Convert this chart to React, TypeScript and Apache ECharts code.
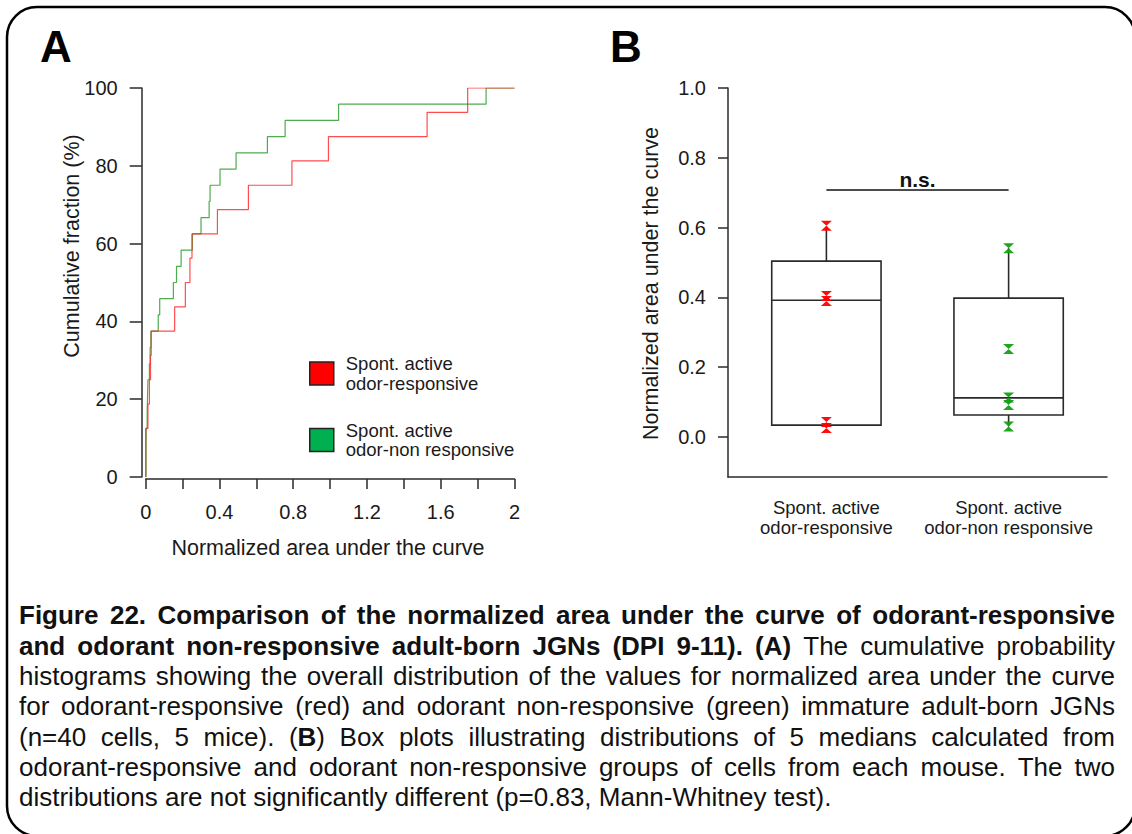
import React, { useEffect, useRef } from 'react';
import * as echarts from 'echarts';

const FONT = "'Liberation Sans', Arial, Helvetica, sans-serif";

// Panel A: normalized area under the curve of each cell (sorted)
const respValues = [0.0, 0.0, 0.012, 0.02, 0.026, 0.03, 0.157, 0.215, 0.24, 0.251, 0.389, 0.557, 0.793, 0.991, 1.526, 1.746];
const nonRespValues = [0.002, 0.002, 0.003, 0.008, 0.01, 0.012, 0.02, 0.024, 0.028, 0.068, 0.076, 0.15, 0.167, 0.192, 0.253, 0.3, 0.344, 0.349, 0.403, 0.49, 0.66, 0.756, 1.046, 1.846];

const respName = 'Spont. active\nodor-responsive';
const nonRespName = 'Spont. active\nodor-non responsive';

// Panel B: box statistics [lower whisker, Q1, median, Q3, upper whisker]
const respBox = [0.026, 0.034, 0.392, 0.504, 0.603];
const nonRespBox = [0.03, 0.063, 0.112, 0.398, 0.541];
// Panel B: per-mouse medians
const respMedians = [0.605, 0.404, 0.39, 0.043, 0.026];
const nonRespMedians = [0.541, 0.252, 0.113, 0.092, 0.03];
const groupLabels = [respName, nonRespName];
const bTicks = [0, 0.2, 0.4, 0.6, 0.8, 1.0];
const nsLevel = 0.708;

// Caption: [text, bold] segments per line; last line is not justified
const captionLines: [string, boolean][][] = [
  [['Figure 22. Comparison of the normalized area under the curve of odorant-responsive', true]],
  [['and odorant non-responsive adult-born JGNs (DPI 9-11). (A)', true], [' The cumulative probability', false]],
  [['histograms showing the overall distribution of the values for normalized area under the curve', false]],
  [['for odorant-responsive (red) and odorant non-responsive (green) immature adult-born JGNs', false]],
  [['(n=40 cells, 5 mice). (', false], ['B', true], [') Box plots illustrating distributions of 5 medians calculated from', false]],
  [['odorant-responsive and odorant non-responsive groups of cells from each mouse. The two', false]],
  [['distributions are not significantly different (p=0.83, Mann-Whitney test).', false]],
];

function cumulative(values: number[]): [number, number][] {
  const n = values.length;
  const pts: [number, number][] = [[values[0], 0]];
  values.forEach((v, i) => pts.push([v, ((i + 1) / n) * 100]));
  pts.push([2, 100]);
  return pts;
}

type Piece = { t: string; b: boolean };
function buildWords(segs: [string, boolean][]): Piece[][] {
  const words: Piece[][] = [];
  let cur: Piece[] = [];
  for (const [text, bold] of segs) {
    const parts = text.split(' ');
    parts.forEach((p, i) => {
      if (i > 0) {
        if (cur.length) words.push(cur);
        cur = [];
      }
      if (p) cur.push({ t: p, b: bold });
    });
  }
  if (cur.length) words.push(cur);
  return words;
}

const HOURGLASS = 'path://M0,0 L10,0 L0,10 L10,10 Z';

export default function App() {
  const ref = useRef<HTMLDivElement>(null);
  useEffect(() => {
    if (!ref.current) return;
    const chart = echarts.init(ref.current, undefined, { renderer: 'svg' });
    const axisColor = '#2a2a2a';
    const labelColor = '#1a1a1a';
    const CAP = 26;
    const capStyle = { fontSize: CAP, fontFamily: FONT, fill: '#111', color: '#111' };
    const canvas = document.createElement('canvas');
    const ctx = canvas.getContext('2d') as CanvasRenderingContext2D;
    const measure = (t: string, b: boolean) => {
      ctx.font = `normal ${b ? 'bold' : 'normal'} ${CAP}px ${FONT}`;
      return ctx.measureText(t).width;
    };
    const LEFT = 19;
    const RIGHT = 1115;

    const titleStyle = (text: string) => ({
      text, fontSize: 21.5, fontFamily: FONT, fill: labelColor,
      align: 'center', textAlign: 'center', verticalAlign: 'middle', textVerticalAlign: 'middle',
    });

    const graphics: any[] = [
      {
        type: 'rect', silent: true, z: 100,
        shape: { x: 7, y: 7, width: 1128, height: 829, r: 30 },
        style: { fill: 'none', stroke: '#000', lineWidth: 2.5 },
      },
      {
        type: 'text', x: 40, y: 46,
        style: { text: 'A', fontSize: 44, fontWeight: 'bold', fontFamily: FONT, fill: '#000', align: 'left', textAlign: 'left', verticalAlign: 'middle', textVerticalAlign: 'middle' },
      },
      {
        type: 'text', x: 610, y: 46,
        style: { text: 'B', fontSize: 44, fontWeight: 'bold', fontFamily: FONT, fill: '#000', align: 'left', textAlign: 'left', verticalAlign: 'middle', textVerticalAlign: 'middle' },
      },
      { type: 'text', x: 72, y: 246, rotation: Math.PI / 2, style: titleStyle('Cumulative fraction (%)') },
      { type: 'text', x: 328, y: 548, style: titleStyle('Normalized area under the curve') },
      { type: 'text', x: 651, y: 283.5, rotation: Math.PI / 2, style: titleStyle('Normalized area under the curve') },
    ];
    const lineYs = [615, 645.5, 676, 706, 736.5, 766.5, 797];
    captionLines.forEach((segs, i) => {
      const words = buildWords(segs);
      const justify = i < captionLines.length - 1 && words.length > 1;
      let total = 0;
      words.forEach((w) => w.forEach((p) => (total += measure(p.t, p.b))));
      const gap = justify ? (RIGHT - LEFT - total) / (words.length - 1) : measure(' ', false);
      const text = words
        .map((w) => w.map((p) => `{${p.b ? 'b' : 'n'}|${p.t}}`).join(''))
        .join('{g| }');
      graphics.push({
        type: 'text', x: LEFT, y: lineYs[i],
        style: {
          text, fontSize: CAP, fontFamily: FONT, fill: '#111',
          align: 'left', textAlign: 'left', verticalAlign: 'middle', textVerticalAlign: 'middle',
          rich: {
            b: { ...capStyle, fontWeight: 'bold' },
            n: { ...capStyle, fontWeight: 'normal' },
            g: { ...capStyle, width: gap },
          },
        },
      });
    });

    const option: any = {
      animation: false,
      textStyle: { fontFamily: FONT },
      grid: [
        { left: 145.7, top: 88, width: 368.8, height: 389 },
        { left: 728, top: 88, width: 379, height: 389 },
      ],
      xAxis: [
        {
          gridIndex: 0, type: 'value', min: 0, max: 2, interval: 0.2, offset: 2,
          axisLine: { show: true, onZero: false, lineStyle: { color: axisColor, width: 1.5 } },
          axisTick: { show: true, length: 10, lineStyle: { color: axisColor, width: 1.5 } },
          axisLabel: {
            margin: 23, fontSize: 20, color: labelColor, fontFamily: FONT, lineHeight: 20,
            formatter: (v: number) => (Math.round(v * 10) % 4 === 0 ? String(+v.toFixed(1)) : ''),
          },
          splitLine: { show: false },
        },
        {
          gridIndex: 1, type: 'value', min: 0.46, max: 2.54,
          axisLine: { show: true, onZero: false, lineStyle: { color: axisColor, width: 1.5 } },
          axisTick: { show: false },
          axisLabel: {
            customValues: [1, 2], margin: 20, fontSize: 18.5, color: labelColor, fontFamily: FONT, lineHeight: 20,
            formatter: (v: number) => groupLabels[Math.round(v) - 1] || '',
          },
          splitLine: { show: false },
        },
      ],
      yAxis: [
        {
          gridIndex: 0, type: 'value', min: 0, max: 100, interval: 20, offset: 4,
          axisLine: { show: true, onZero: false, lineStyle: { color: axisColor, width: 1.5 } },
          axisTick: { show: true, length: 12, lineStyle: { color: axisColor, width: 1.5 } },
          axisLabel: { margin: 24, fontSize: 20, color: labelColor, fontFamily: FONT },
          splitLine: { show: false },
        },
        {
          gridIndex: 1, type: 'value', min: -0.1146, max: 1.0,
          axisLine: { show: true, onZero: false, lineStyle: { color: axisColor, width: 1.5 } },
          axisTick: { show: true, length: 10, customValues: bTicks, lineStyle: { color: axisColor, width: 1.5 } },
          axisLabel: {
            customValues: bTicks, margin: 22, fontSize: 20, color: labelColor, fontFamily: FONT,
            formatter: (v: number) => v.toFixed(1),
          },
          splitLine: { show: false },
        },
      ],
      legend: {
        orient: 'vertical', left: 309, top: 354, padding: 0, itemWidth: 24, itemHeight: 23, itemGap: 27.5,
        icon: 'rect', selectedMode: false,
        textStyle: { fontSize: 18.5, lineHeight: 19.5, color: labelColor, fontFamily: FONT, padding: [0, 0, 0, 7] },
        data: [
          { name: respName, icon: 'rect', itemStyle: { color: '#ff0000', borderColor: '#222', borderWidth: 1.5 } },
          { name: nonRespName, icon: 'rect', itemStyle: { color: '#00b050', borderColor: '#222', borderWidth: 1.5 } },
        ],
      },
      series: [
        {
          name: nonRespName, type: 'line', xAxisIndex: 0, yAxisIndex: 0, step: 'end',
          symbol: 'none', showSymbol: false, data: cumulative(nonRespValues),
          color: '#2e9e2e', lineStyle: { color: '#2e9e2e', width: 1.2, opacity: 0.85 },
        },
        {
          name: respName, type: 'line', xAxisIndex: 0, yAxisIndex: 0, step: 'end',
          symbol: 'none', showSymbol: false, data: cumulative(respValues),
          color: '#ff2020', lineStyle: { color: '#ff2020', width: 1.2, opacity: 0.8 },
        },
        {
          type: 'custom', xAxisIndex: 1, yAxisIndex: 1, z: 2,
          data: [[1, ...respBox], [2, ...nonRespBox]],
          encode: { x: 0, y: [1, 2, 3, 4, 5] },
          renderItem: (params: any, api: any) => {
            const x = api.value(0);
            const lo = api.coord([x, api.value(1)]);
            const q1 = api.coord([x, api.value(2)]);
            const md = api.coord([x, api.value(3)]);
            const q3 = api.coord([x, api.value(4)]);
            const hi = api.coord([x, api.value(5)]);
            const hw = api.size([0.6, 0])[0] / 2;
            const st = { stroke: '#2a2a2a', lineWidth: 1.6, fill: 'none' };
            return {
              type: 'group',
              children: [
                { type: 'line', shape: { x1: lo[0], y1: lo[1], x2: q1[0], y2: q1[1] }, style: st },
                { type: 'line', shape: { x1: q3[0], y1: q3[1], x2: hi[0], y2: hi[1] }, style: st },
                { type: 'rect', shape: { x: q3[0] - hw, y: q3[1], width: 2 * hw, height: q1[1] - q3[1] }, style: { ...st, fill: '#fff' } },
                { type: 'line', shape: { x1: md[0] - hw, y1: md[1], x2: md[0] + hw, y2: md[1] }, style: st },
              ],
            };
          },
        },
        {
          type: 'scatter', xAxisIndex: 1, yAxisIndex: 1, z: 3,
          symbol: HOURGLASS, symbolSize: [11, 10],
          itemStyle: { color: '#ff0000', opacity: 0.95 },
          data: respMedians.map((v) => [1, v]),
          markLine: {
            silent: true, symbol: 'none', animation: false,
            lineStyle: { color: '#111', width: 1.6, type: 'solid' },
            label: { show: true, position: 'middle', formatter: 'n.s.', fontWeight: 'bold', fontSize: 21, color: '#111', fontFamily: FONT, distance: 0 },
            data: [[{ coord: [1, nsLevel] }, { coord: [2, nsLevel] }]],
          },
        },
        {
          type: 'scatter', xAxisIndex: 1, yAxisIndex: 1, z: 3,
          symbol: HOURGLASS, symbolSize: [11, 10],
          itemStyle: { color: '#14a014', opacity: 0.95 },
          data: nonRespMedians.map((v) => [2, v]),
        },
      ],
      graphic: graphics,
    };
    chart.setOption(option);
    return () => chart.dispose();
  }, []);
  return (
    <div
      ref={ref}
      style={{ position: 'absolute', left: 0, top: 0, width: 1132, height: 834, background: '#fff' }}
    />
  );
}
